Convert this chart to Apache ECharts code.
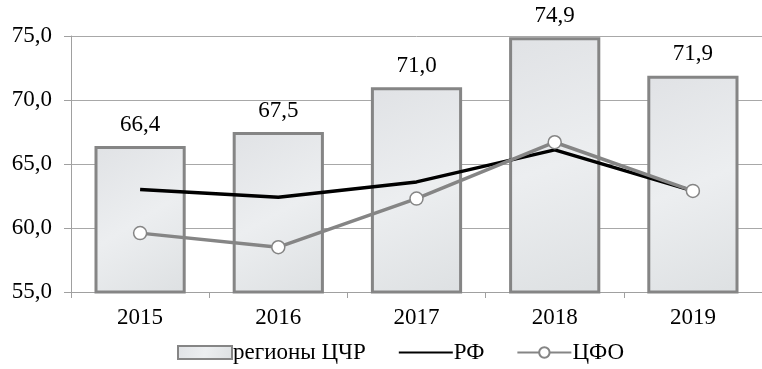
<!DOCTYPE html>
<html><head><meta charset="utf-8">
<script src="https://cdn.jsdelivr.net/npm/echarts@6/dist/echarts.min.js"></script>
<style>html,body{margin:0;padding:0;background:#fff}#c{width:762px;height:369px}</style>
</head><body><div id="c"></div>
<script>
const categories = ['2015','2016','2017','2018','2019'];
const cchrValues = [66.4, 67.5, 71.0, 74.9, 71.9];
const rfValues = [63.0, 62.4, 63.6, 66.1, 62.9];
const cfoValues = [59.6, 58.5, 62.3, 66.7, 62.9];
const seriesNames = ['регионы ЦЧР', 'РФ', 'ЦФО'];

const fmt = v => v.toFixed(1).replace('.', ',');
const font = '"Liberation Serif", "Times New Roman", serif';
const chart = echarts.init(document.getElementById('c'), null, {renderer: 'canvas'});
chart.setOption({
  animation: false,
  textStyle: {fontFamily: font},
  grid: {left: 71, right: -6, top: 36, bottom: 77},
  legend: {
    bottom: 0, left: 172, itemGap: 32, itemWidth: 54, itemHeight: 13,
    textStyle: {fontFamily: font, fontSize: 23, color: '#000', padding: [0, 0, 0, -4]},
    data: [
      {name: seriesNames[0], icon: 'rect'},
      {name: seriesNames[1]},
      {name: seriesNames[2]}
    ]
  },
  xAxis: {
    type: 'category', data: categories,
    axisLine: {lineStyle: {color: '#a0a0a0', width: 1}},
    axisTick: {show: true, length: 6, lineStyle: {color: '#a0a0a0'}},
    axisLabel: {fontFamily: font, fontSize: 23, color: '#000', margin: 14}
  },
  yAxis: {
    type: 'value', min: 55, max: 75, interval: 5,
    axisLine: {show: true, lineStyle: {color: '#a0a0a0'}},
    axisTick: {show: true, length: 7, lineStyle: {color: '#a0a0a0'}},
    splitLine: {lineStyle: {color: '#a8a8a8'}},
    axisLabel: {fontFamily: font, fontSize: 23, color: '#000', margin: 19, formatter: v => fmt(v)}
  },
  series: [
    {
      name: seriesNames[0], type: 'bar', data: cchrValues, barWidth: '66%',
      itemStyle: {
        color: {type: 'linear', x: 0, y: 0, x2: 1, y2: 1, colorStops: [
          {offset: 0, color: '#e0e2e5'}, {offset: 0.5, color: '#eceef0'}, {offset: 1, color: '#dde0e2'}]},
        borderColor: '#858585', borderWidth: 3
      },
      label: {show: true, position: 'top', distance: 10, fontFamily: font, fontSize: 23, color: '#000',
        formatter: p => fmt(p.value)},
      z: 1
    },
    {
      name: seriesNames[1], type: 'line', data: rfValues, symbol: 'none',
      lineStyle: {color: '#000', width: 3.5}, itemStyle: {color: 'rgba(0,0,0,0)', borderWidth: 0}, z: 3
    },
    {
      name: seriesNames[2], type: 'line', data: cfoValues, symbol: 'circle', symbolSize: 13,
      lineStyle: {color: '#858585', width: 3.5},
      itemStyle: {color: '#fff', borderColor: '#858585', borderWidth: 1.5}, z: 4
    }
  ]
});
</script></body></html>
